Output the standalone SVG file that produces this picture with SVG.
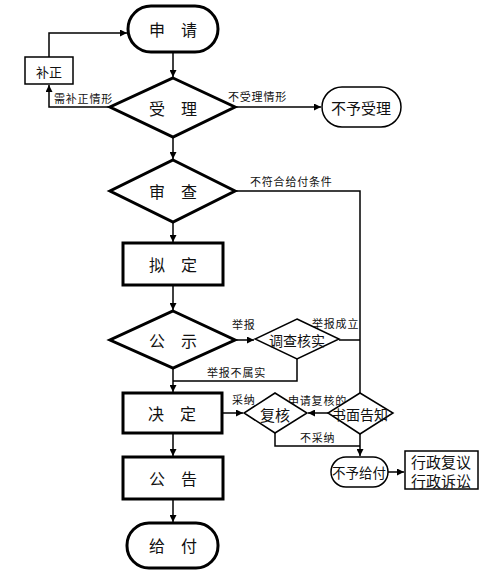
<svg xmlns="http://www.w3.org/2000/svg" width="490" height="575" viewBox="0 0 490 575">
<style>
text{font-family:"Noto Sans CJK SC","Liberation Sans",sans-serif;fill:#111;text-anchor:middle;dominant-baseline:central}
.big{font-size:16px}
.mid{font-size:15px}
.sm{font-size:11px;text-anchor:start;letter-spacing:0.8px}
.thick{fill:#fff;stroke:#000;stroke-width:3}
.thin{fill:#fff;stroke:#000;stroke-width:1.5}
.ln{fill:none;stroke:#000;stroke-width:1.5}
</style>
<defs>
<marker id="ah" viewBox="0 0 10 10" refX="10" refY="5" markerWidth="7" markerHeight="7" markerUnits="userSpaceOnUse" orient="auto"><path d="M0,0L10,5L0,10z" fill="#000"/></marker>
</defs>
<rect width="490" height="575" fill="#fff"/>
<g id="connectors">
<path class="ln" d="M173,52V77" marker-end="url(#ah)"/>
<path class="ln" d="M49,57V33H127" marker-end="url(#ah)"/>
<path class="ln" d="M110,107H49V85" marker-end="url(#ah)"/>
<path class="ln" d="M235,107H321" marker-end="url(#ah)"/>
<path class="ln" d="M173,137V159" marker-end="url(#ah)"/>
<path class="ln" d="M235,191H360V393"/>
<path class="ln" d="M173,222V242" marker-end="url(#ah)"/>
<path class="ln" d="M173,285V310" marker-end="url(#ah)"/>
<path class="ln" d="M235,340H254" marker-end="url(#ah)"/>
<path class="ln" d="M339,340H360"/>
<path class="ln" d="M297,359V381H173"/>
<path class="ln" d="M173,368V392" marker-end="url(#ah)"/>
<path class="ln" d="M222,413H243" marker-end="url(#ah)"/>
<path class="ln" d="M328,413H308" marker-end="url(#ah)"/>
<path class="ln" d="M275,433V446H360"/>
<path class="ln" d="M360,434V456" marker-end="url(#ah)"/>
<path class="ln" d="M388,472H404" marker-end="url(#ah)"/>
<path class="ln" d="M173,433V456" marker-end="url(#ah)"/>
<path class="ln" d="M173,499V522" marker-end="url(#ah)"/>
<text class="sm" x="54" y="98">需补正情形</text>
<text class="sm" x="228" y="96">不受理情形</text>
<text class="sm" x="250" y="181">不符合给付条件</text>
<text class="sm" x="232" y="324">举报</text>
<text class="sm" x="312" y="323">举报成立</text>
<text class="sm" x="207" y="372">举报不属实</text>
<text class="sm" x="232" y="399">采纳</text>
<text class="sm" x="288" y="400">申请复核的</text>
<text class="sm" x="300" y="437">不采纳</text>
</g>
<g id="n-shenqing"><rect class="thick" x="128" y="6" width="90" height="46" rx="23"/><text class="big" x="173" y="29">申　请</text></g>
<g id="n-buzheng"><rect class="thin" x="25" y="57" width="48" height="27"/><text x="49" y="71" style="font-size:13px">补正</text></g>
<g id="n-shouli"><polygon class="thick" points="173,78 235,107 173,137 110,107"/><text class="big" x="173" y="108">受　理</text></g>
<g id="n-buyushouli"><rect class="thin" x="322" y="87" width="79" height="40" rx="20"/><text class="mid" x="361" y="107">不予受理</text></g>
<g id="n-shencha"><polygon class="thick" points="173,160 235,191 173,222 110,191"/><text class="big" x="173" y="191">审　查</text></g>
<g id="n-niding"><rect class="thick" x="123" y="243" width="100" height="42"/><text class="big" x="173" y="264">拟　定</text></g>
<g id="n-gongshi"><polygon class="thick" points="173,311 235,340 173,368 110,340"/><text class="big" x="173" y="340">公　示</text></g>
<g id="n-diaocha"><polygon class="thin" points="297,319 339,339 297,359 255,339"/><text x="297" y="340" style="font-size:14px">调查核实</text></g>
<g id="n-jueding"><rect class="thick" x="123" y="393" width="99" height="40"/><text class="big" x="172" y="413">决　定</text></g>
<g id="n-fuhe"><polygon class="thin" points="275,393 307,413 275,433 244,413"/><text class="mid" x="275" y="414">复核</text></g>
<g id="n-shumian"><polygon class="thin" points="360,393 393,413 360,434 328,413"/><text x="360" y="414" style="font-size:14px">书面告知</text></g>
<g id="n-buyugeifu"><rect class="thin" x="331" y="457" width="57" height="30" rx="15"/><text x="359" y="472" style="font-size:13.5px">不予给付</text></g>
<g id="n-xingzheng"><rect class="thin" x="405" y="451" width="73" height="38"/><text x="441" y="461" style="font-size:15px">行政复议</text><text x="441" y="480" style="font-size:15px">行政诉讼</text></g>
<g id="n-gonggao"><rect class="thick" x="123" y="457" width="100" height="42"/><text class="big" x="173" y="478">公　告</text></g>
<g id="n-geifu"><rect class="thick" x="127" y="523" width="91" height="45" rx="22"/><text class="big" x="173" y="545">给　付</text></g>
</svg>
